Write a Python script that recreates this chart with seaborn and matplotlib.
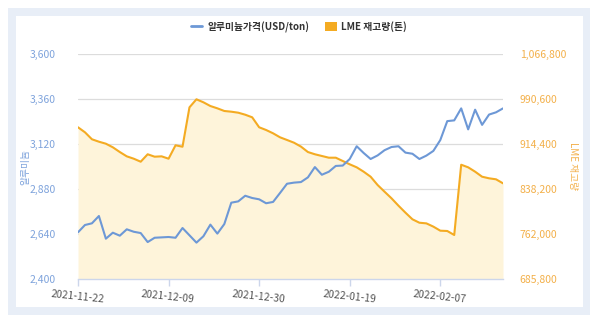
import matplotlib
matplotlib.use("Agg")
import matplotlib.pyplot as plt
import matplotlib.patches as mpatches
from matplotlib.lines import Line2D
import seaborn as sns
import pandas as pd
import numpy as np

# ---- data ----
holidays = ["2021-12-27", "2021-12-28", "2022-01-03"]
dates = [d for d in pd.bdate_range("2021-11-22", "2022-02-18").strftime("%Y-%m-%d") if d not in holidays]

price = [2649, 2688, 2697, 2736, 2615, 2647, 2631, 2665, 2652, 2645,
         2597, 2620, 2622, 2624, 2620, 2672, 2633, 2594, 2628, 2690,
         2642, 2693, 2807, 2814, 2844, 2832, 2825, 2804, 2811, 2859,
         2908, 2914, 2917, 2942, 2997, 2956, 2972, 3003, 3005, 3040,
         3108, 3072, 3040, 3059, 3087, 3104, 3108, 3074, 3068, 3040,
         3058, 3083, 3141, 3242, 3246, 3310, 3198, 3303, 3222, 3277,
         3289, 3310]

stock = [942700, 934200, 922400, 918300, 914900, 908800, 900800, 893500, 889500, 884400,
         897000, 892900, 893500, 889500, 912200, 909800, 976500, 990100, 985000, 978700,
         974800, 970300, 969100, 967400, 964000, 959600, 942700, 938100, 932500, 925700,
         921200, 916600, 910000, 900800, 897000, 894100, 891200, 891200, 885600, 880000,
         874900, 867500, 859000, 845000, 833600, 822400, 809900, 798100, 786900, 781100,
         780000, 774500, 767600, 767100, 760300, 879300, 874900, 867500, 859000, 856300,
         854600, 847800]

tick_dates = ["2021-11-22", "2021-12-09", "2021-12-30", "2022-01-19", "2022-02-07"]
left_ticks = [2400, 2640, 2880, 3120, 3360, 3600]
right_ticks = [685800, 762000, 838200, 914400, 990600, 1066800]

price_label = "알루미늄가격(USD/ton)"
stock_label = "LME 재고량(톤)"
left_axis_label = "알루미늄"
right_axis_label = "LME 재고량"

df = pd.DataFrame({"idx": np.arange(len(dates)), "date": dates,
                   "price": price, "stock": stock})

# ---- style ----
sns.set_theme(style="white")
plt.rcParams["font.family"] = ["Noto Sans CJK KR", "DejaVu Sans"]

BLUE = "#6d98d6"
BLUE_TXT = "#7ea3dc"
ORANGE = "#f4ab22"
ORANGE_TXT = "#f3b04a"
FILL = "#fef4da"
GRID = "#dcdcdc"
AXIS = "#ccd6eb"

fig = plt.figure(figsize=(6, 3.25), dpi=100)
fig.patch.set_facecolor("white")
# outer frame
fig.patches.append(mpatches.Rectangle((8/600, 1-315/325), (590-8)/600, (315-8)/325,
                                      transform=fig.transFigure, facecolor="#e8eef7",
                                      edgecolor="none", zorder=-20))
fig.patches.append(mpatches.Rectangle((16/600, 1-307/325), (583-16)/600, (307-16)/325,
                                      transform=fig.transFigure, facecolor="white",
                                      edgecolor="none", zorder=-19))

ax2 = fig.add_axes([78/600, 1-279/325, (503-78)/600, (279-54)/325])
ax = ax2.twinx()
ax.yaxis.tick_left()
ax.yaxis.set_label_position("left")
ax2.yaxis.tick_right()
ax2.yaxis.set_label_position("right")
ax2.patch.set_visible(False)
ax.patch.set_visible(False)

# orange area + line (behind)
ax2.fill_between(df["idx"], df["stock"], right_ticks[0], color=FILL, linewidth=0, zorder=1)
sns.lineplot(data=df, x="idx", y="stock", ax=ax2, color=ORANGE, linewidth=1.5, zorder=2, legend=False)
ax2.set_ylim(right_ticks[0], right_ticks[-1])
ax2.set_yticks(right_ticks)
ax2.set_yticklabels([f"{v:,}" for v in right_ticks])
for y in right_ticks[1:]:
    ax2.axhline(y, color=GRID, linewidth=0.9, zorder=0)

# blue line
sns.lineplot(data=df, x="idx", y="price", ax=ax, color=BLUE, linewidth=1.5, zorder=3, legend=False)
ax.set_ylim(left_ticks[0], left_ticks[-1])
ax.set_yticks(left_ticks)
ax.set_yticklabels([f"{v:,}" for v in left_ticks])

xt = [dates.index(d) for d in tick_dates]
for a in (ax, ax2):
    a.set_xlim(0, len(dates) - 1)
    for s in a.spines.values():
        s.set_visible(False)
    a.set_xlabel("")
    a.set_ylabel("")
ax2.spines["bottom"].set_visible(True)
ax2.spines["bottom"].set_color(AXIS)
ax2.spines["bottom"].set_linewidth(1.0)
ax2.set_xticks(xt)
ax2.set_xticklabels(tick_dates, rotation=-6, ha="center", rotation_mode="anchor")
ax2.tick_params(axis="x", colors=AXIS, labelcolor="#555555", labelsize=7.5,
                length=5, width=1, direction="out", pad=4, bottom=True, labelbottom=True)
ax.tick_params(axis="x", bottom=False, labelbottom=False)
ax.tick_params(axis="y", colors=BLUE_TXT, labelsize=7.5, length=0, pad=16)
ax2.tick_params(axis="y", colors=ORANGE_TXT, labelsize=7.5, length=0, pad=12)

# axis titles
fig.text(25/600, 1-167/325, left_axis_label, rotation=90, color=BLUE_TXT,
         fontsize=7, ha="center", va="center")
fig.text(573/600, 1-166/325, right_axis_label, rotation=270, color=ORANGE_TXT,
         fontsize=7, ha="center", va="center")

# legend
handles = [Line2D([], [], color=BLUE, linewidth=2),
           mpatches.Patch(facecolor=ORANGE, edgecolor="none")]
fig.legend(handles, [price_label, stock_label], loc="center",
           bbox_to_anchor=(299/600, 1-27/325), ncol=2, frameon=False,
           prop={"size": 7, "weight": "bold"}, handlelength=1.2, handleheight=1.0,
           columnspacing=1.6, handletextpad=0.5, labelcolor="#333333")

fig.savefig("out.png", dpi=100)
